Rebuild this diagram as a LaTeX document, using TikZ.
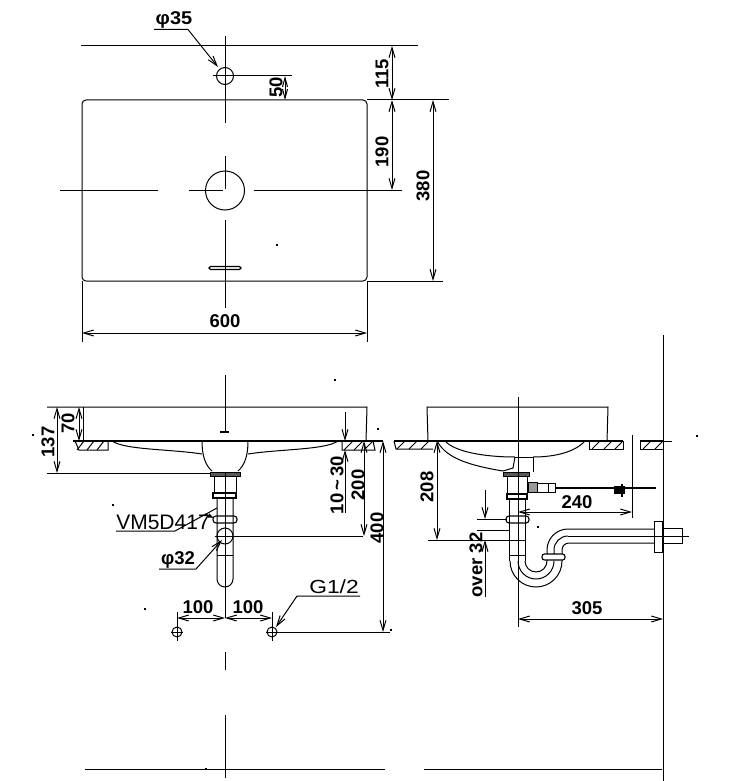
\documentclass[tikz,border=0pt]{standalone}
\usepackage{fontspec}
\setmainfont{Liberation Sans}
\usetikzlibrary{arrows.meta}

\begin{document}
\begin{tikzpicture}[x=1pt, y=-1pt, line width=1pt, >={Straight Barb[length=10pt,width=6pt]},
    dim/.style={font=\bfseries\fontsize{18.5}{18.5}\selectfont, inner sep=0pt},
    note/.style={font=\fontsize{21}{21}\selectfont, inner sep=0pt},
    thickline/.style={line width=1.8pt},
    dark/.style={draw=black, fill=black!65},
    spot/.style={fill=black, inner sep=0pt, minimum size=1.6pt}]
    \useasboundingbox (0,0) rectangle (753,781);

    % top view
    \draw[rounded corners=4] (82,100) rectangle (367,281);
    \node[draw, circle, minimum size=17pt, inner sep=0pt] (tap) at (225,76) {};
    \node[draw, circle, minimum size=39pt, inner sep=0pt] (bowl) at (225,190.5) {};
    \draw[rounded corners=1.5, line width=1.1pt] (209,266.5) rectangle (241,269.5);
    \draw (81,46) to (418,46);
    \draw (367,100) to (449,100);
    \draw (367,281) to (443,281);
    \draw (213,76) to (292,76);
    \draw (60,190.5) to (158,190.5);
    \draw (189,190.5) to (223,190.5);
    \draw (254,190.5) to (402,190.5);
    \draw (225,36) to (225,123);
    \draw (225,156) to (225,189);
    \draw (225,220) to (225,308);
    \draw (82,281) to (82,342);
    \draw (367,281) to (367,342);
    \draw[<->] (392,46) to (392,100);
    \draw[<->] (392,100) to (392,190);
    \draw[<->] (433,100) to (433,281);
    \draw[<->] (82,333) to (367,333);
    \draw[<->, >={Straight Barb[length=9pt,width=5pt]}] (285,76) to (285,100);
    \node[dim, rotate=90] (dimA) at (382,74) {115};
    \node[dim, rotate=90] (dimB) at (382,152) {190};
    \node[dim, rotate=90] (dimC) at (423,186) {380};
    \node[dim, rotate=90] (dimD) at (276,87) {50};
    \node[dim] (dimE) at (225,321) {600};
    \node[dim, xscale=1.08] (tapsize) at (174,20) {φ35};
    \draw[->] (154,29.5) to (188,29.5) to (218,67);

    % front view
    \draw (47,407) to (367,407) to (366,441);
    \draw (83,407) to (83,441);
    \draw[thickline] (73,441) to (383,441);
    \draw (47,473) to (210,473);
    \draw (75,441) to (79,450) to (108,450) to (108,441);
    \draw (342,441) to (342,450) to (375,450) to (373,441);
    \foreach \hx in {84,94,104}
        \draw (\hx-7,450) to (\hx,441);
    \foreach \hx in {353,363,373}
        \draw (\hx-9,450) to (\hx,441);
    \draw (112,441) .. controls (125,450) and (170,449) .. (202,454);
    \draw (338,441) .. controls (325,450) and (280,449) .. (248,454);
    \draw (202,441) .. controls (202,455) and (205,465) .. (212,471);
    \draw (248,441) .. controls (248,455) and (245,465) .. (238,471);
    \draw[dark] (210,472) rectangle (240,476);
    \draw (214,476) rectangle (236,493);
    \draw[line width=1.2pt] (213,493) rectangle (236,498);
    \draw (217,498) to (217,579) arc[start angle=180, end angle=0, radius=8] to (233,498);
    \draw[rounded corners=3, line width=1.1pt] (213,516) rectangle (237,523);
    \draw (217,555) to (233,555);
    \node[draw, circle, minimum size=16pt, inner sep=0pt] (drain) at (225,536) {};
    \draw (215,536) to (363,536);
    \draw (225,375) to (225,433);
    \draw[thickline] (220,432) to (229,432);
    \draw (225,472) to (225,618);
    \draw (225,652) to (225,670);
    \draw (225,715) to (225,778);
    \draw[<->] (57,407) to (57,473);
    \draw[<->] (79,407) to (79,441);
    \node[dim, rotate=90] (dimF) at (48,442) {137};
    \node[dim, rotate=90] (dimG) at (68,423) {70};
    \draw[->] (345,412) to (345,441);
    \draw[->] (345,513) to (345,450);
    \draw[<->] (364,441) to (364,536);
    \draw[<->] (383,441) to (383,632);
    \node[dim, rotate=90] (dimH) at (337,485) {10\,\textasciitilde\,30};
    \node[dim, rotate=90] (dimI) at (358,485) {200};
    \node[dim, rotate=90] (dimJ) at (377,528) {400};
    \node[note] (trapcode) at (163,522) {VM5D417};
    \draw (116,531) to (175,531) to (217,508);
    \draw[-{Latex[length=6pt,width=5pt]}] (205,514) to (214,518);
    \node[dim] (drainsize) at (178,560) {φ32};
    \draw[->] (159,569) to (196,569) to (222,540);
    \node[draw, circle, minimum size=10pt, inner sep=0pt] (holeL) at (177,632) {};
    \node[draw, circle, minimum size=10pt, inner sep=0pt] (holeR) at (272,632) {};
    \draw (177,612) to (177,641);
    \draw (171,632) to (183,632);
    \draw (272,612) to (272,641);
    \draw (266,632) to (390,632);
    \draw[<->] (177,618) to (225,618);
    \draw[<->] (225,618) to (272,618);
    \node[dim] (dimK) at (198,607) {100};
    \node[dim] (dimL) at (248,607) {100};
    \node[note, font=\fontsize{19}{19}\selectfont, xscale=1.2] (threadsize) at (334,587) {G1/2};
    \draw[->] (360,596) to (297,596) to (276,627);
    \draw (85,769) to (385,769);

    % side view
    \draw (428,441) to (427,407) to (608,407) to (607,441);
    \draw[thickline] (394,441) to (623,441);
    \draw[thickline] (640,441) to (663,441);
    \draw (663,441) to (672,441);
    \draw (394,441) to (396,449) to (433,449);
    \draw (589,441) to (589,449) to (623,449) to (623,441);
    \draw (640,441) to (640,449) to (663,449);
    \foreach \hx in {405,417,429}
        \draw (\hx-8,449) to (\hx,441);
    \foreach \hx in {600,612,623}
        \draw (\hx-8,449) to (\hx,441);
    \foreach \hx in {651,663}
        \draw (\hx-8,449) to (\hx,441);
    \draw (445,441) .. controls (455,452) and (485,457) .. (515,457);
    \draw (533,457) .. controls (555,457) and (575,452) .. (585,441);
    \draw (437,441) .. controls (445,455) and (460,464) .. (503,471);
    \draw (515,457) to (513,468) to (503,471);
    \draw (515,457) to (533,457) to (533,472);
    \draw[dark] (503,472) rectangle (529,476);
    \draw (507,476) rectangle (527,494);
    \draw[line width=1.2pt] (507,494) rectangle (527,499);
    \draw (509,499) to (509,561);
    \draw (525,499) to (525,561);
    \draw[rounded corners=3, line width=1.1pt] (506,516) rectangle (529,523);
    \draw (509,555) to (525,555);
    \draw (510,561) arc[start angle=180, end angle=0, radius=26];
    \draw (518,561) arc[start angle=180, end angle=0, radius=18];
    \draw (525,561) arc[start angle=180, end angle=0, radius=11];
    \draw (562,561) to (562,550) arc[start angle=180, end angle=270, radius=7] to (654,543);
    \draw (547,561) to (547,550) arc[start angle=180, end angle=270, radius=21] to (654,529);
    \draw (554,554) to (554,550) arc[start angle=180, end angle=270, radius=14];
    \draw[fill=white, rounded corners=2.5, line width=1.1pt] (542,554) rectangle (565,560);
    \draw (654,521) rectangle (662,552);
    \draw (662,528) to (682,528) to (682,543) to (662,543);
    \draw (568,536) to (689,536);
    \draw (518,397) to (518,627);
    \draw (663,335) to (663,781);
    % angle valve
    \draw[fill=black!40] (528,482) rectangle (537,492);
    \draw (537,483) rectangle (555,492);
    \draw (548,483) to (548,492);
    \draw[line width=2pt] (555,488) to (656,488);
    \draw[fill=black] (614,486) rectangle (624,493);
    \draw[line width=1.4pt] (622,484) to (622,497);
    \draw (632,435) to (632,518);
    \draw[<->] (518,512) to (632,512);
    \node[dim] (dimM) at (577,502) {240};
    \draw[<->] (437,441) to (437,540);
    \draw (428,540) to (525,540);
    \node[dim, rotate=90] (dimN) at (427,487) {208};
    \draw (477,519) to (507,519);
    \draw (477,530) to (509,530);
    \draw[->] (485,490) to (485,519);
    \draw[->] (485,597) to (485,540);
    \node[dim, rotate=90] (dimO) at (476,565) {over 32};
    \draw[<->] (518,619) to (663,619);
    \node[dim] (dimP) at (587,608) {305};
    \draw (424,769) to (662,769);

    % stray specks
    \foreach \sx/\sy [count=\si] in {277/245, 335/380, 378/429, 113/505, 145/609, 33/435, 538/527, 697/436, 391/630, 206/769}
        \node[spot] (speck\si) at (\sx,\sy) {};
\end{tikzpicture}
\end{document}
